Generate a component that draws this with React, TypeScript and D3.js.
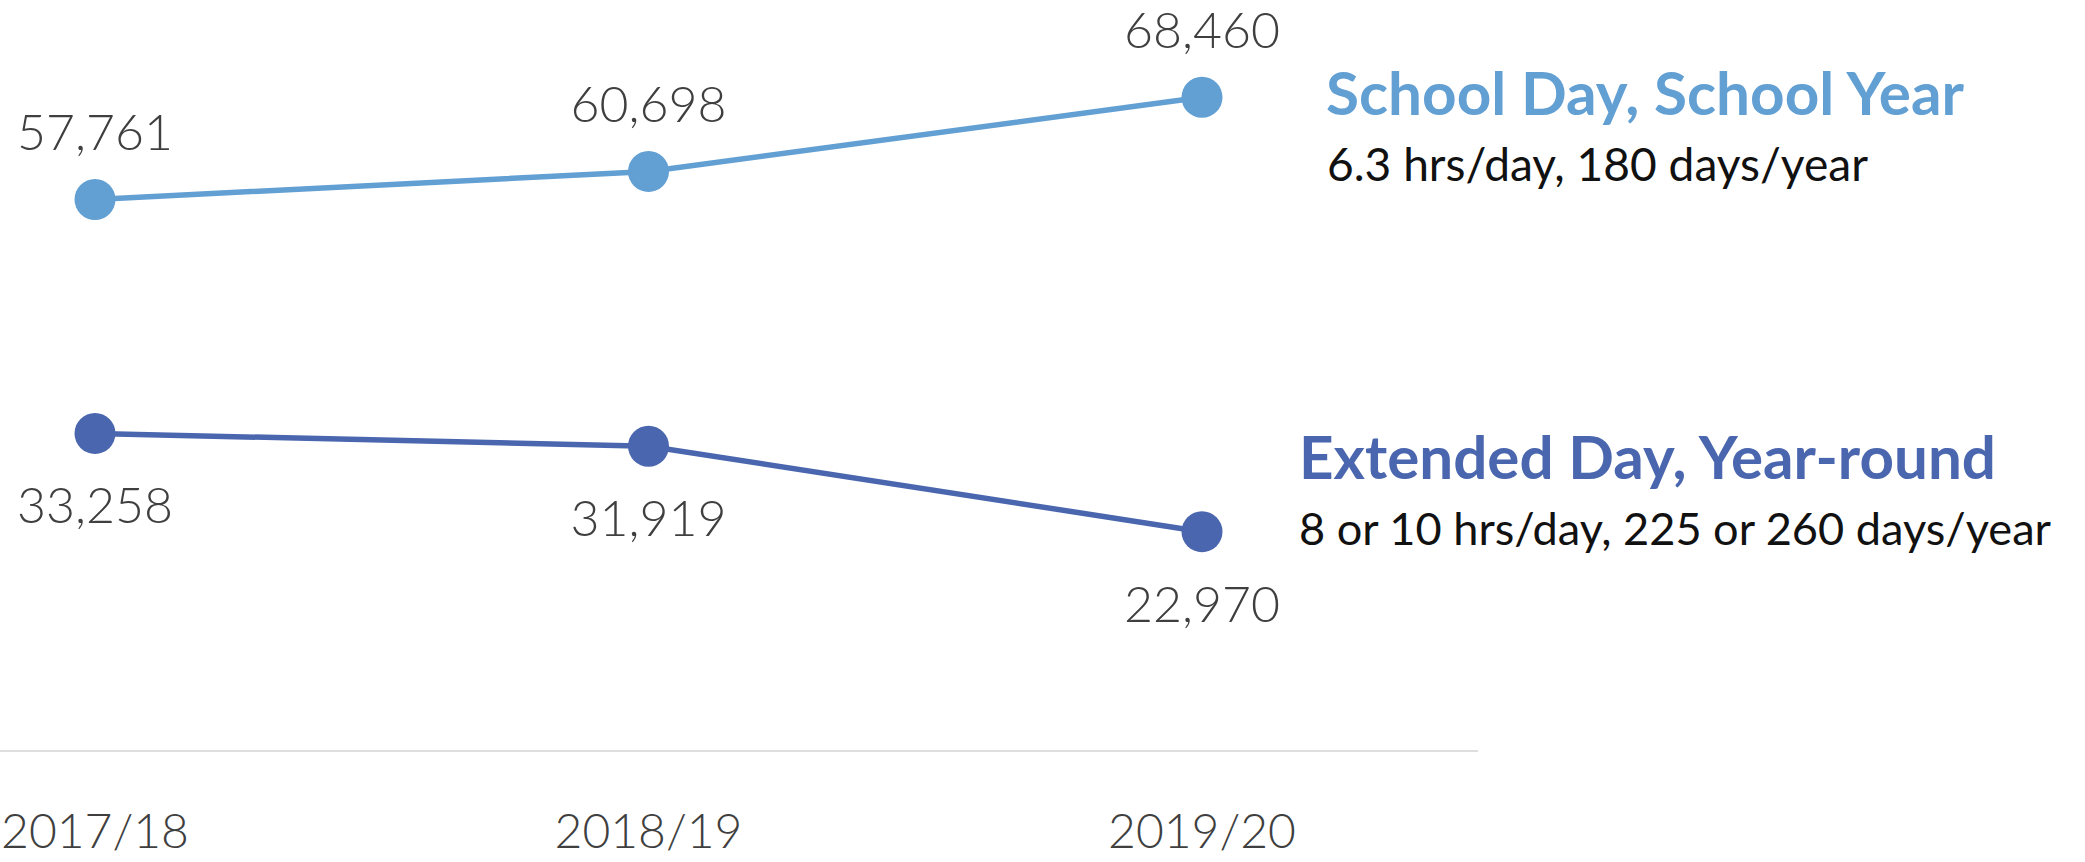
import React from "react";
import * as d3 from "d3";

// School years on the x axis
const years = ["2017/18", "2018/19", "2019/20"];

// Enrolment per program type
const schoolDayValues = [57761, 60698, 68460];
const extendedDayValues = [33258, 31919, 22970];

// Legend text
const schoolDayTitle = "School Day, School Year";
const schoolDaySub = "6.3 hrs/day, 180 days/year";
const extendedDayTitle = "Extended Day, Year-round";
const extendedDaySub = "8 or 10 hrs/day, 225 or 260 days/year";

const W = 2085;
const H = 862;
const BASE_Y = 751;

const LIGHT = "#629fd3";
const DARK = "#4a66ae";
const LABEL = "#3f3f3f";
const FONT = "Lato, 'Noto Sans', sans-serif";

const fmt = d3.format(",");

export default function App() {
  const x = d3.scalePoint<string>().domain(years).range([95, 1202]);
  const y = d3.scaleLinear().domain([0, 70000]).range([BASE_Y, 82.6]);

  const line = d3
    .line<number>()
    .x((_, i) => x(years[i]) as number)
    .y((d) => y(d));

  const series = [
    { key: "school", values: schoolDayValues, color: LIGHT, labelDy: -49 },
    { key: "extended", values: extendedDayValues, color: DARK, labelDy: 90 },
  ];

  return (
    <svg
      width={W}
      height={H}
      style={{ position: "absolute", left: 0, top: 0, background: "#fff" }}
    >
      {/* baseline */}
      <line x1={0} x2={1478} y1={BASE_Y} y2={BASE_Y} stroke="#dedede" strokeWidth={2} />

      {/* x axis labels */}
      {years.map((yr) => (
        <text
          key={yr}
          x={x(yr)}
          y={848}
          textAnchor="middle"
          fontFamily={FONT}
          fontWeight={300}
          fontSize={48}
          fill={LABEL}
        >
          {yr}
        </text>
      ))}

      {series.map((s) => (
        <g key={s.key}>
          <path d={line(s.values) || ""} fill="none" stroke={s.color} strokeWidth={5.5} />
          {s.values.map((v, i) => (
            <circle key={i} cx={x(years[i])} cy={y(v)} r={20.5} fill={s.color} />
          ))}
          {s.values.map((v, i) => (
            <text
              key={"t" + i}
              x={x(years[i])}
              y={y(v) + s.labelDy}
              textAnchor="middle"
              fontFamily={FONT}
              fontWeight={300}
              fontSize={50}
              fill={LABEL}
            >
              {fmt(v)}
            </text>
          ))}
        </g>
      ))}

      {/* legend */}
      <text
        x={1326}
        y={115}
        fontFamily={FONT}
        fontWeight={700}
        fontSize={59}
        fill={LIGHT}
        textLength={638}
        lengthAdjust="spacingAndGlyphs"
      >
        {schoolDayTitle}
      </text>
      <text
        x={1327}
        y={181}
        fontFamily={FONT}
        fontWeight={400}
        fontSize={46}
        fill="#111"
        textLength={541}
        lengthAdjust="spacingAndGlyphs"
      >
        {schoolDaySub}
      </text>
      <text
        x={1299}
        y={479}
        fontFamily={FONT}
        fontWeight={700}
        fontSize={59}
        fill={DARK}
        textLength={697}
        lengthAdjust="spacingAndGlyphs"
      >
        {extendedDayTitle}
      </text>
      <text
        x={1299}
        y={545}
        fontFamily={FONT}
        fontWeight={400}
        fontSize={45}
        fill="#111"
        textLength={752}
        lengthAdjust="spacingAndGlyphs"
      >
        {extendedDaySub}
      </text>
    </svg>
  );
}
